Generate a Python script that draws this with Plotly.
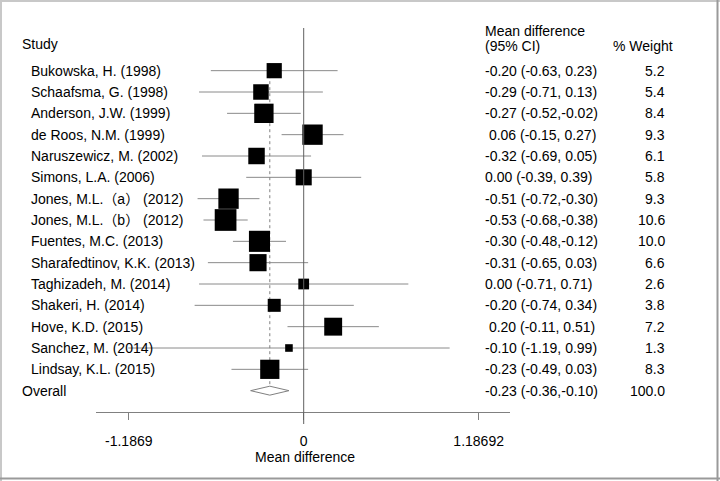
import plotly.graph_objects as go
import numpy as np

studies = ["Bukowska, H. (1998)", "Schaafsma, G. (1998)", "Anderson, J.W. (1999)",
           "de Roos, N.M. (1999)", "Naruszewicz, M. (2002)", "Simons, L.A. (2006)",
           "Jones, M.L.（a） (2012)", "Jones, M.L.（b） (2012)", "Fuentes, M.C. (2013)",
           "Sharafedtinov, K.K. (2013)", "Taghizadeh, M. (2014)", "Shakeri, H. (2014)",
           "Hove, K.D. (2015)", "Sanchez, M. (2014)", "Lindsay, K.L. (2015)"]
means = [-0.20, -0.29, -0.27, 0.06, -0.32, 0.00, -0.51, -0.53, -0.30, -0.31, 0.00, -0.20, 0.20, -0.10, -0.23]
lower = [-0.63, -0.71, -0.52, -0.15, -0.69, -0.39, -0.72, -0.68, -0.48, -0.65, -0.71, -0.74, -0.11, -1.19, -0.49]
upper = [0.23, 0.13, -0.02, 0.27, 0.05, 0.39, -0.30, -0.38, -0.12, 0.03, 0.71, 0.34, 0.51, 0.99, 0.03]
weights = [5.2, 5.4, 8.4, 9.3, 6.1, 5.8, 9.3, 10.6, 10.0, 6.6, 2.6, 3.8, 7.2, 1.3, 8.3]
ci_text = ["-0.20 (-0.63, 0.23)", "-0.29 (-0.71, 0.13)", "-0.27 (-0.52,-0.02)",
           "\u00a00.06 (-0.15, 0.27)", "-0.32 (-0.69, 0.05)", "0.00 (-0.39, 0.39)",
           "-0.51 (-0.72,-0.30)", "-0.53 (-0.68,-0.38)", "-0.30 (-0.48,-0.12)",
           "-0.31 (-0.65, 0.03)", "0.00 (-0.71, 0.71)", "-0.20 (-0.74, 0.34)",
           "\u00a00.20 (-0.11, 0.51)", "-0.10 (-1.19, 0.99)", "-0.23 (-0.49, 0.03)"]
overall_mean, overall_lo, overall_hi = -0.23, -0.36, -0.10
overall_text = "-0.23 (-0.36,-0.10)"
overall_weight = "100.0"
tick_vals = [-1.1869, 0, 1.18692]
tick_text = ["-1.1869", "0", "1.18692"]

W, H = 720, 481
FONT = "Arial, 'Liberation Sans', 'Noto Sans CJK SC', sans-serif"
n = len(studies)
rows = list(range(n))
overall_row = n

def px_x(p):
    return p / W

def px_y(p):
    return 1 - p / H

fig = go.Figure()

# CI lines
cx, cy = [], []
for lo, hi, r in zip(lower, upper, rows):
    cx += [lo, hi, None]
    cy += [r, r, None]
fig.add_trace(go.Scatter(x=cx, y=cy, mode="lines", line=dict(color="#8a8a8a", width=1),
                         hoverinfo="skip", showlegend=False))

# dashed overall line
fig.add_trace(go.Scatter(x=[overall_mean, overall_mean], y=[-0.35, overall_row + 0.2], mode="lines",
                         line=dict(color="#808080", width=1, dash="3px,3px"),
                         hoverinfo="skip", showlegend=False))

# boxes
sizes = [6.67 * np.sqrt(w) for w in weights]
fig.add_trace(go.Scatter(x=means, y=rows, mode="markers",
                         marker=dict(symbol="square", size=sizes, color="black", opacity=1,
                                     line=dict(width=0)),
                         showlegend=False))

# diamond
h = 0.21
fig.add_trace(go.Scatter(x=[overall_lo, overall_mean, overall_hi, overall_mean, overall_lo],
                         y=[overall_row, overall_row - h, overall_row, overall_row + h, overall_row],
                         mode="lines", fill="toself", fillcolor="white",
                         line=dict(color="#808080", width=1), showlegend=False, hoverinfo="skip"))

shapes = []
# zero line
shapes.append(dict(type="line", xref="x", yref="paper", x0=0, x1=0, y0=px_y(424), y1=px_y(28),
                   line=dict(color="#606060", width=1)))
# frame
shapes.append(dict(type="line", xref="paper", yref="paper", x0=px_x(1), x1=px_x(1), y0=0, y1=1,
                   line=dict(color="#c8c8c8", width=2)))
shapes.append(dict(type="line", xref="paper", yref="paper", x0=0, x1=1, y0=px_y(1), y1=px_y(1),
                   line=dict(color="#c8c8c8", width=2)))
shapes.append(dict(type="line", xref="paper", yref="paper", x0=px_x(717.5), x1=px_x(717.5), y0=0, y1=1,
                   line=dict(color="#9a9a9a", width=2)))
shapes.append(dict(type="line", xref="paper", yref="paper", x0=0, x1=1, y0=px_y(478.5), y1=px_y(478.5),
                   line=dict(color="#9a9a9a", width=2)))

ann = []
def txt(text, x, y, xanchor="left", yref="y"):
    ann.append(dict(text=text, x=px_x(x), y=y, xref="paper", yref=yref, xanchor=xanchor,
                    yanchor="middle", showarrow=False, font=dict(size=14, color="black", family=FONT)))

txt("Study", 20, px_y(44.5), yref="paper")
txt("Mean difference", 483, px_y(31), yref="paper")
txt("(95% CI)", 483, px_y(45.5), yref="paper")
txt("% Weight", 611, px_y(45.5), yref="paper")
for r, s, c, w in zip(rows, studies, ci_text, weights):
    txt(s, 29, r)
    txt(c, 483, r)
    txt(f"{w:.1f}", 667, r, xanchor="right")
txt("Overall", 20, overall_row)
txt(overall_text, 483, overall_row)
txt(overall_weight, 667, overall_row, xanchor="right")
txt("Mean difference", 305, px_y(457), xanchor="center", yref="paper")

# x scale: 0 -> 303.7px, 147.4 px/unit
x0px, scale = 303.7, 147.4
d_left, d_right = 96, 510
fig.update_layout(
    width=W, height=H, margin=dict(l=0, r=0, t=0, b=0),
    paper_bgcolor="white", plot_bgcolor="white",
    shapes=shapes, annotations=ann,
    font=dict(family=FONT, size=14, color="black"),
    xaxis=dict(domain=[d_left / W, d_right / W],
               range=[(d_left - x0px) / scale, (d_right - x0px) / scale],
               showgrid=False, zeroline=False, showline=True, linecolor="#808080", linewidth=1,
               ticks="outside", ticklen=7, tickcolor="#808080", tickwidth=1,
               tickvals=tick_vals, ticktext=tick_text, tickfont=dict(size=14, color="black"),
               ticklabelstandoff=9),
    yaxis=dict(domain=[px_y(412), px_y(28)], range=[16.0, -2.0], visible=False),
)

fig.write_html("out.html", config={"displayModeBar": False},
               post_script="document.body.style.margin='0';")
